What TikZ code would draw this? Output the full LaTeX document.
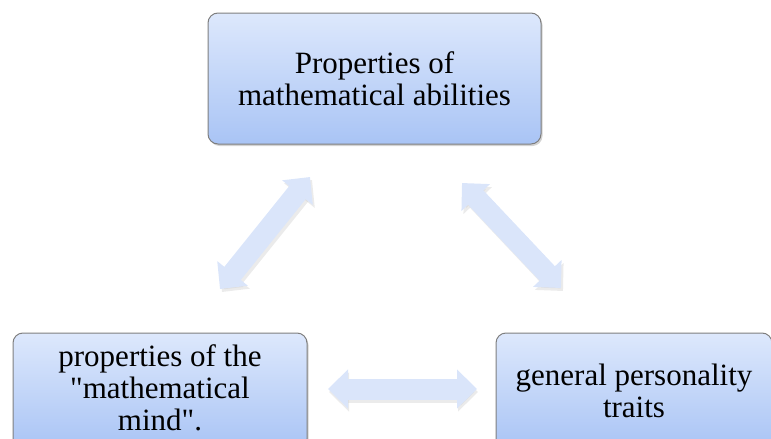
\documentclass[tikz,border=0pt]{standalone}
\usepackage{fontspec}
\setmainfont{Liberation Serif}
\usepackage{tikz}
\usetikzlibrary{arrows.meta, shadows}

\definecolor{boxtop}{HTML}{DDE8FC}
\definecolor{boxbot}{HTML}{A9C4F5}
\definecolor{boxline}{HTML}{7F7F7F}
\definecolor{arrowblue}{HTML}{DAE5FA}

\begin{document}
\begin{tikzpicture}[x=1pt,y=-1pt,
		box/.style={draw=boxline, line width=1pt, rounded corners=10pt,
			top color=boxtop, bottom color=boxbot, align=center,
			font=\fontsize{31}{32}\selectfont, inner sep=0pt,
			drop shadow={opacity=0.35, shadow xshift=1.5pt, shadow yshift=-2pt}},
		dblarrow/.style={line width=21pt, color=arrowblue,
			{Triangle[length=20pt,width=38pt]}-{Triangle[length=20pt,width=38pt]}},
		arrowshade/.style={line width=21pt, color=black!20, opacity=0.4,
			{Triangle[length=20pt,width=38pt]}-{Triangle[length=20pt,width=38pt]}}]
		\useasboundingbox (0,0) rectangle (771,439);
		\node[box, minimum width=333pt, minimum height=131pt] (props) at (374.5,78.5) {Properties of\\mathematical abilities};
		\node[box, minimum width=294pt, minimum height=116pt, text depth=7pt] (mind) at (160,391) {properties of the\\\textquotedbl mathematical\\mind\textquotedbl.};
		\node[box, minimum width=276pt, minimum height=116pt] (traits) at (634,391) {general personality\\traits};
		% arrow ends
		\coordinate (ml) at (220,289);
		\coordinate (mu) at (310,177);
		\coordinate (tu) at (462,183);
		\coordinate (tl) at (561,288);
		\coordinate (hl) at (328,389);
		\coordinate (hr) at (477,389);
		\draw[arrowshade] ([shift={(2,3)}]ml) -- ([shift={(2,3)}]mu);
		\draw[arrowshade] ([shift={(2,3)}]tu) -- ([shift={(2,3)}]tl);
		\draw[arrowshade] ([shift={(1,3)}]hl) -- ([shift={(1,3)}]hr);
		\draw[dblarrow] (ml) -- (mu);
		\draw[dblarrow] (tu) -- (tl);
		\draw[dblarrow] (hl) -- (hr);
	\end{tikzpicture}
\end{document}
